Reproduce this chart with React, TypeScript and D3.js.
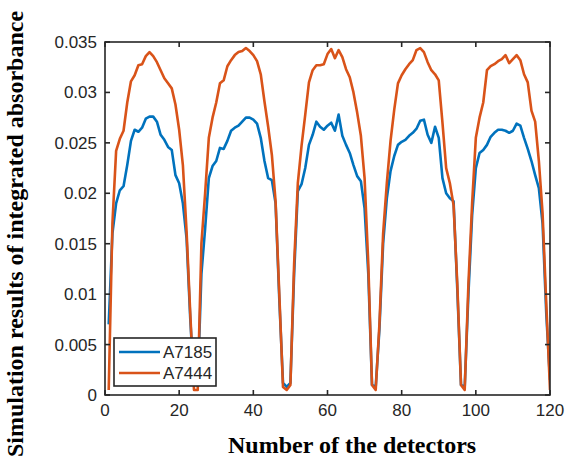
import React from "react";
import * as d3 from "d3";

const detectors: number[] = d3.range(1, 121);

const seriesNames = ["A7185", "A7444"];
const seriesColors = ["#0072BD", "#D95319"];

const a7185: number[] = [
  0.007, 0.016, 0.019, 0.0203, 0.0207, 0.0228, 0.0252, 0.0263, 0.0261, 0.0265,
  0.0274, 0.0276, 0.0276, 0.0271, 0.0258, 0.0253, 0.0246, 0.0243, 0.0218, 0.021,
  0.019, 0.0155, 0.0075, 0.001, 0.001, 0.012, 0.0165, 0.0215, 0.0227, 0.0232,
  0.0245, 0.0244, 0.0252, 0.0262, 0.0265, 0.0267, 0.0271, 0.0275, 0.0275, 0.0273,
  0.0269, 0.0255, 0.0232, 0.0215, 0.0213, 0.019, 0.0095, 0.0012, 0.0008, 0.0012,
  0.012, 0.0202, 0.0209, 0.0225, 0.0248, 0.0258, 0.0271, 0.0266, 0.0263, 0.0267,
  0.027, 0.0262, 0.0278, 0.0257, 0.0248, 0.024, 0.0228, 0.0217, 0.0212, 0.0185,
  0.012, 0.001, 0.0008, 0.0065, 0.015, 0.0195, 0.0222, 0.0237, 0.0248, 0.0251,
  0.0253, 0.0257, 0.026, 0.0264, 0.0272, 0.0273, 0.0258, 0.025, 0.0266, 0.0255,
  0.0215, 0.02, 0.0195, 0.0192, 0.0105, 0.001, 0.0008, 0.01, 0.0178, 0.0225,
  0.024, 0.0243, 0.0248, 0.0256, 0.026, 0.0263, 0.0263, 0.0262, 0.026, 0.0262,
  0.0269, 0.0267, 0.0255, 0.0244, 0.0232, 0.0218, 0.0205, 0.017, 0.008, 0.0015,
];

const a7444: number[] = [
  0.0005, 0.017, 0.0242, 0.0254, 0.0262, 0.029, 0.0311, 0.0317, 0.0327, 0.0328,
  0.0336, 0.034, 0.0336, 0.033, 0.0322, 0.0314, 0.0309, 0.0304, 0.0288, 0.0263,
  0.0228, 0.0162, 0.008, 0.0005, 0.0005, 0.015, 0.02, 0.0255, 0.0275, 0.029,
  0.0309, 0.0312, 0.0326, 0.0332, 0.0337, 0.034, 0.0341, 0.0344, 0.0341, 0.0337,
  0.0331, 0.0318, 0.0291, 0.0266, 0.0238, 0.0192, 0.01, 0.0008, 0.0005, 0.001,
  0.013, 0.021, 0.0247, 0.0278, 0.031, 0.0322, 0.0327, 0.0327, 0.0328, 0.0338,
  0.0343, 0.0334, 0.0342, 0.0335, 0.0323, 0.0315, 0.03, 0.028, 0.0257, 0.0215,
  0.013, 0.001, 0.0005, 0.007, 0.016, 0.021, 0.0252, 0.0283, 0.0309, 0.0317,
  0.0323, 0.0328, 0.0332, 0.0342, 0.0344, 0.034, 0.033, 0.0322, 0.0318, 0.0312,
  0.027, 0.0225, 0.021, 0.0188, 0.011, 0.001, 0.0005, 0.011, 0.019, 0.0255,
  0.0275, 0.029, 0.0322, 0.0326, 0.0328, 0.0331, 0.0333, 0.0337, 0.0329, 0.0333,
  0.0337, 0.0332, 0.0318, 0.031, 0.0282, 0.0271, 0.0232, 0.018, 0.009, 0.0005,
];

const xTicks = [0, 20, 40, 60, 80, 100, 120];
const yTicks = [0, 0.005, 0.01, 0.015, 0.02, 0.025, 0.03, 0.035];
const yTickLabels = ["0", "0.005", "0.01", "0.015", "0.02", "0.025", "0.03", "0.035"];

const xLabel = "Number of the detectors";
const yLabel = "Simulation results of integrated absorbance";

export default function App() {
  const W = 565;
  const H = 468;
  const left = 105, right = 550, top = 42, bottom = 395;
  const x = d3.scaleLinear().domain([0, 120]).range([left, right]);
  const y = d3.scaleLinear().domain([0, 0.035]).range([bottom, top]);
  const axisColor = "#262626";
  const tickLen = 5;
  const sans = "'Liberation Sans', Arial, sans-serif";
  const serif = "'Liberation Serif', 'Times New Roman', serif";

  const series = [a7185, a7444];
  const line = d3
    .line<number>()
    .x((_, i) => x(detectors[i]))
    .y((d) => y(d));

  const legX = 114, legY = 338, legW = 102, legH = 48;

  return (
    <svg
      width={W}
      height={H}
      style={{ position: "absolute", left: 0, top: 0, background: "#fff" }}
    >
      <rect x={0} y={0} width={W} height={H} fill="#fff" />
      <defs>
        <clipPath id="plotclip">
          <rect x={left} y={top - 2} width={right - left} height={bottom - top + 4} />
        </clipPath>
      </defs>
      <g clipPath="url(#plotclip)">
        {series.map((s, k) => (
          <path
            key={k}
            d={line(s) || ""}
            fill="none"
            stroke={seriesColors[k]}
            strokeWidth={2.6}
            strokeLinejoin="round"
          />
        ))}
      </g>
      {/* frame */}
      <rect
        x={left}
        y={top}
        width={right - left}
        height={bottom - top}
        fill="none"
        stroke={axisColor}
        strokeWidth={1.6}
      />
      {/* x ticks */}
      {xTicks.map((t) => (
        <g key={"xt" + t}>
          <line x1={x(t)} x2={x(t)} y1={bottom} y2={bottom - tickLen} stroke={axisColor} strokeWidth={1.6} />
          <line x1={x(t)} x2={x(t)} y1={top} y2={top + tickLen} stroke={axisColor} strokeWidth={1.6} />
          <text
            x={x(t)}
            y={bottom + 21}
            textAnchor="middle"
            fontFamily={sans}
            fontSize={17}
            fill={axisColor}
          >
            {t}
          </text>
        </g>
      ))}
      {/* y ticks */}
      {yTicks.map((t, i) => (
        <g key={"yt" + i}>
          <line x1={left} x2={left + tickLen} y1={y(t)} y2={y(t)} stroke={axisColor} strokeWidth={1.6} />
          <line x1={right} x2={right - tickLen} y1={y(t)} y2={y(t)} stroke={axisColor} strokeWidth={1.6} />
          <text
            x={left - 8}
            y={y(t) + 6}
            textAnchor="end"
            fontFamily={sans}
            fontSize={17}
            fill={axisColor}
          >
            {yTickLabels[i]}
          </text>
        </g>
      ))}
      {/* legend */}
      <rect x={legX} y={legY} width={legW} height={legH} fill="#fff" stroke={axisColor} strokeWidth={1.6} />
      {seriesNames.map((n, k) => (
        <g key={n}>
          <line
            x1={legX + 5}
            x2={legX + 46}
            y1={legY + 14 + k * 21}
            y2={legY + 14 + k * 21}
            stroke={seriesColors[k]}
            strokeWidth={2.6}
          />
          <text
            x={legX + 49}
            y={legY + 20 + k * 21}
            fontFamily={sans}
            fontSize={17}
            fill={axisColor}
          >
            {n}
          </text>
        </g>
      ))}
      {/* axis labels */}
      <text
        x={228}
        y={453}
        textAnchor="start"
        fontFamily={serif}
        fontWeight="bold"
        fontSize={24}
        fill="#000"
      >
        {xLabel}
      </text>
      <text
        transform={`translate(23, 234) rotate(-90)`}
        textAnchor="middle"
        fontFamily={serif}
        fontWeight="bold"
        fontSize={24}
        fill="#000"
      >
        {yLabel}
      </text>
    </svg>
  );
}
